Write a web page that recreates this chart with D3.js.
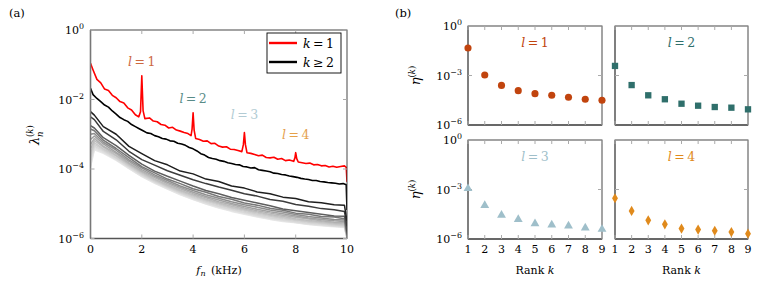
<!DOCTYPE html>
<html>
<head>
<meta charset="utf-8">
<script src="https://cdn.jsdelivr.net/npm/d3@7"></script>
<style>
  body { margin: 0; background: #fff; }
  svg text { font-family: "DejaVu Serif", serif; }
</style>
</head>
<body>
<svg id="chart" width="757" height="284"></svg>
<script>
// ---------- data (values are log10 of lambda / eta) ----------
// (a) k = 1 spectrum, [f kHz, log10 lambda]
const curveK1 = [
  [0,-0.96],[0.1,-1.15],[0.25,-1.42],[0.4,-1.52],[0.55,-1.70],[0.7,-1.74],[0.85,-1.88],[1.0,-1.95],
  [1.15,-2.06],[1.3,-2.10],[1.45,-2.24],[1.6,-2.30],[1.75,-2.44],[1.88,-2.50],[1.95,-2.35],[2.0,-1.32],
  [2.05,-2.32],[2.12,-2.55],[2.3,-2.53],[2.45,-2.62],[2.6,-2.64],[2.75,-2.72],[2.9,-2.74],[3.05,-2.82],
  [3.2,-2.80],[3.35,-2.88],[3.5,-2.91],[3.65,-2.95],[3.8,-2.98],[3.92,-3.04],[3.96,-2.85],[4.0,-2.38],
  [4.04,-2.88],[4.1,-3.12],[4.25,-3.15],[4.4,-3.20],[4.55,-3.19],[4.7,-3.27],[4.85,-3.26],[5.0,-3.34],
  [5.15,-3.37],[5.3,-3.36],[5.45,-3.43],[5.6,-3.44],[5.75,-3.47],[5.9,-3.50],[5.96,-3.30],[6.0,-2.95],
  [6.04,-3.30],[6.1,-3.53],[6.25,-3.55],[6.4,-3.58],[6.55,-3.62],[6.7,-3.60],[6.85,-3.67],[7.0,-3.68],
  [7.15,-3.66],[7.3,-3.72],[7.45,-3.70],[7.6,-3.76],[7.75,-3.74],[7.92,-3.78],[7.97,-3.68],[8.0,-3.53],
  [8.04,-3.70],[8.1,-3.80],[8.25,-3.82],[8.4,-3.84],[8.55,-3.83],[8.7,-3.88],[8.85,-3.87],[9.0,-3.91],
  [9.15,-3.90],[9.3,-3.94],[9.45,-3.92],[9.6,-3.95],[9.75,-3.93],[9.9,-3.91],[9.97,-3.95],[10,-4.37]
];
// (a) k = 2 spectrum
const curveK2 = [
  [0,-1.68],[0.1,-1.86],[0.25,-1.97],[0.4,-2.06],[0.55,-2.16],[0.7,-2.22],[0.85,-2.33],[1.0,-2.42],
  [1.15,-2.52],[1.3,-2.58],[1.45,-2.63],[1.6,-2.72],[1.75,-2.78],[1.9,-2.84],[2.05,-2.90],[2.2,-2.96],
  [2.35,-2.98],[2.5,-3.04],[2.65,-3.07],[2.8,-3.12],[2.95,-3.14],[3.1,-3.19],[3.25,-3.20],[3.4,-3.26],
  [3.55,-3.28],[3.7,-3.32],[3.85,-3.38],[4.0,-3.42],[4.15,-3.48],[4.3,-3.56],[4.45,-3.60],[4.6,-3.67],
  [4.75,-3.70],[4.9,-3.72],[5.05,-3.76],[5.2,-3.78],[5.35,-3.82],[5.5,-3.84],[5.65,-3.87],[5.8,-3.88],
  [5.95,-3.93],[6.1,-3.94],[6.25,-3.97],[6.4,-3.96],[6.55,-4.02],[6.7,-4.04],[6.85,-4.06],[7.0,-4.08],
  [7.15,-4.12],[7.3,-4.13],[7.45,-4.16],[7.6,-4.17],[7.75,-4.20],[7.9,-4.22],[8.05,-4.24],[8.2,-4.27],
  [8.35,-4.29],[8.5,-4.30],[8.65,-4.33],[8.8,-4.33],[8.95,-4.36],[9.1,-4.37],[9.25,-4.39],[9.4,-4.40],
  [9.55,-4.41],[9.7,-4.43],[9.85,-4.42],[9.97,-4.45],[10,-5.18]
];
// (a) k >= 3 spectra on a coarser frequency grid
const freqCoarse = [0, 0.15, 0.5, 1, 1.5, 2, 2.5, 3, 3.5, 4, 4.5, 5, 5.5, 6, 6.5, 7, 7.5, 8, 8.5, 9, 9.5, 9.9, 10];
const curvesHigher = [
  [-2.35,-2.45,-2.78,-3.00,-3.35,-3.56,-3.76,-3.88,-4.06,-4.14,-4.29,-4.36,-4.49,-4.55,-4.66,-4.71,-4.81,-4.85,-4.94,-4.97,-5.03,-5.04,-5.50],
  [-2.50,-2.58,-2.92,-3.16,-3.49,-3.73,-3.89,-4.05,-4.18,-4.31,-4.42,-4.52,-4.61,-4.71,-4.78,-4.88,-4.93,-5.02,-5.07,-5.14,-5.17,-5.22,-5.65],
  [-2.75,-2.82,-3.10,-3.33,-3.61,-3.86,-4.06,-4.21,-4.35,-4.49,-4.62,-4.71,-4.82,-4.90,-4.98,-5.06,-5.15,-5.20,-5.25,-5.30,-5.35,-5.36,-5.80],
  [-2.85,-2.90,-3.17,-3.41,-3.67,-3.93,-4.11,-4.29,-4.42,-4.57,-4.67,-4.79,-4.87,-4.98,-5.04,-5.13,-5.19,-5.27,-5.30,-5.37,-5.38,-5.43,-5.85],
  [-3.00,-2.98,-3.23,-3.46,-3.74,-3.97,-4.17,-4.33,-4.49,-4.62,-4.74,-4.84,-4.94,-5.03,-5.10,-5.18,-5.24,-5.31,-5.37,-5.41,-5.45,-5.47,-5.88],
  [-3.15,-3.05,-3.28,-3.52,-3.78,-4.02,-4.21,-4.38,-4.53,-4.67,-4.79,-4.89,-4.99,-5.08,-5.16,-5.23,-5.29,-5.35,-5.41,-5.45,-5.49,-5.51,-5.90],
  [-3.30,-3.12,-3.34,-3.56,-3.83,-4.06,-4.25,-4.42,-4.57,-4.71,-4.83,-4.94,-5.03,-5.12,-5.20,-5.27,-5.33,-5.39,-5.44,-5.49,-5.53,-5.55,-5.92],
  [-3.42,-3.18,-3.37,-3.61,-3.86,-4.09,-4.29,-4.46,-4.61,-4.75,-4.87,-4.98,-5.07,-5.16,-5.24,-5.31,-5.37,-5.43,-5.48,-5.52,-5.56,-5.58,-5.94],
  [-3.55,-3.24,-3.42,-3.63,-3.89,-4.12,-4.32,-4.49,-4.64,-4.78,-4.90,-5.01,-5.11,-5.19,-5.27,-5.34,-5.40,-5.46,-5.51,-5.55,-5.59,-5.61,-5.95],
  [-3.65,-3.29,-3.45,-3.67,-3.92,-4.15,-4.34,-4.51,-4.67,-4.81,-4.93,-5.04,-5.13,-5.22,-5.30,-5.37,-5.43,-5.48,-5.53,-5.57,-5.61,-5.63,-5.96],
  [-3.75,-3.34,-3.48,-3.69,-3.94,-4.17,-4.37,-4.53,-4.69,-4.83,-4.96,-5.07,-5.16,-5.25,-5.33,-5.40,-5.46,-5.51,-5.56,-5.59,-5.63,-5.65,-5.97],
  [-3.82,-3.38,-3.51,-3.72,-3.96,-4.19,-4.38,-4.55,-4.71,-4.85,-4.98,-5.09,-5.18,-5.27,-5.35,-5.42,-5.48,-5.53,-5.58,-5.61,-5.64,-5.66,-5.98],
  [-3.90,-3.42,-3.53,-3.73,-3.98,-4.21,-4.40,-4.57,-4.73,-4.87,-5.00,-5.11,-5.20,-5.29,-5.37,-5.44,-5.50,-5.54,-5.59,-5.62,-5.65,-5.67,-5.99],
  [-3.95,-3.45,-3.55,-3.75,-3.99,-4.22,-4.41,-4.58,-4.74,-4.88,-5.01,-5.12,-5.22,-5.30,-5.38,-5.45,-5.51,-5.55,-5.60,-5.63,-5.66,-5.68,-6.00]
];
const greyShades = ['#1e1e1e','#3c3c3c','#5e5e5e','#787878','#8e8e8e','#a0a0a0','#b0b0b0',
                    '#bdbdbd','#c8c8c8','#d1d1d1','#d8d8d8','#dfdfdf','#e4e4e4','#e9e9e9'];
// (a) peak labels: mode index, frequency, log10 position
const peakLabels = [
  { l: 1, f: 2.0, v: -1.05 },
  { l: 2, f: 4.0, v: -2.1 },
  { l: 3, f: 6.0, v: -2.55 },
  { l: 4, f: 8.0, v: -3.15 }
];

// (b) eta vs rank, log10 values
const ranks = [1, 2, 3, 4, 5, 6, 7, 8, 9];
const etaL1 = [-1.33, -2.97, -3.60, -3.92, -4.10, -4.20, -4.32, -4.44, -4.50];
const etaL2 = [-2.42, -3.58, -4.20, -4.44, -4.71, -4.83, -4.91, -4.95, -5.05];
const etaL3 = [-2.94, -3.96, -4.55, -4.81, -5.07, -5.15, -5.21, -5.33, -5.41];
const etaL4 = [-3.53, -4.30, -4.87, -5.11, -5.37, -5.43, -5.50, -5.58, -5.68];

const modeColors = ['#c1440e', '#2f6f6b', '#9fbfca', '#e08a1c'];
const modeSymbols = [d3.symbolCircle, d3.symbolSquare, d3.symbolTriangle, d3.symbolDiamond];

const yTicksA = [0, -2, -4, -6];
const yTicksB = [0, -3, -6];

// ---------- helpers ----------
const svg = d3.select('#chart');
const FS = 11;

function powLabel(sel, e) {
  sel.text(null);
  sel.append('tspan').text('10');
  sel.append('tspan').attr('dy', -5).attr('font-size', FS * 0.72)
    .text(e === 0 ? '0' : '\u2212' + Math.abs(e));
}

function mathLabel(g, x, y, name, rhs, color, size) {
  const t = g.append('text').attr('x', x).attr('y', y)
    .attr('text-anchor', 'middle').attr('fill', color).attr('font-size', size || 12);
  t.append('tspan').attr('font-style', 'italic').text(name);
  t.append('tspan').text(rhs);
  return t;
}

function frame(g, x0, x1, y0, y1) {
  g.append('rect').attr('x', x0).attr('y', y0).attr('width', x1 - x0).attr('height', y1 - y0)
    .attr('fill', 'none').attr('stroke', '#333').attr('stroke-width', 0.9);
  g.append('line').attr('x1', x0).attr('x2', x0).attr('y1', y0).attr('y2', y1)
    .attr('stroke', '#777').attr('stroke-width', 1.6);
  g.append('line').attr('x1', x0).attr('x2', x1).attr('y1', y1).attr('y2', y1)
    .attr('stroke', '#555').attr('stroke-width', 1.4);
}

function inwardTicks(g, xs, ys, x, y, len) {
  const [x0, x1] = x.range(), [y1, y0] = y.range();
  xs.forEach(v => {
    const px = x(v);
    g.append('line').attr('x1', px).attr('x2', px).attr('y1', y1).attr('y2', y1 - len).attr('stroke', '#aaa');
    g.append('line').attr('x1', px).attr('x2', px).attr('y1', y0).attr('y2', y0 + len).attr('stroke', '#aaa');
  });
  ys.forEach(v => {
    const py = y(v);
    g.append('line').attr('x1', x0).attr('x2', x0 + len).attr('y1', py).attr('y2', py).attr('stroke', '#aaa');
    g.append('line').attr('x1', x1).attr('x2', x1 - len).attr('y1', py).attr('y2', py).attr('stroke', '#aaa');
  });
}

// ---------- (a) spectra ----------
const xA = d3.scaleLinear([0, 10], [90.5, 347]);
const yA = d3.scaleLog([1e-6, 1], [238.5, 30]);
const gA = svg.append('g');

svg.append('text').attr('x', 9).attr('y', 17).attr('font-size', 11.5).text('(a)');

svg.append('clipPath').attr('id', 'clipA').append('rect')
  .attr('x', 90.5).attr('y', 30).attr('width', 256.5).attr('height', 208.5);

const lineA = d3.line().x(d => xA(d[0])).y(d => yA(Math.pow(10, d[1])));
const plotA = gA.append('g').attr('clip-path', 'url(#clipA)');

// lightest first so the darker curves sit on top
curvesHigher.map((c, i) => ({ c, i })).reverse().forEach(({ c, i }) => {
  plotA.append('path')
    .datum(freqCoarse.map((f, j) => [f, c[j]]))
    .attr('d', lineA).attr('fill', 'none')
    .attr('stroke', greyShades[i]).attr('stroke-width', 1.5).attr('stroke-linejoin', 'round');
});
plotA.append('path').datum(curveK2).attr('d', lineA).attr('fill', 'none')
  .attr('stroke', '#000').attr('stroke-width', 1.6).attr('stroke-linejoin', 'round');
plotA.append('path').datum(curveK1).attr('d', lineA).attr('fill', 'none')
  .attr('stroke', '#ff0000').attr('stroke-width', 1.6).attr('stroke-linejoin', 'round');

frame(gA, 90.5, 347, 30, 238.5);
inwardTicks(gA, [2, 4, 6, 8], yTicksA.map(e => Math.pow(10, e)), xA, yA, 4);

// tick labels
gA.selectAll('text.xt').data([0, 2, 4, 6, 8, 10]).join('text')
  .attr('class', 'xt').attr('x', d => xA(d)).attr('y', 253)
  .attr('text-anchor', 'middle').attr('font-size', FS).text(d => d);
gA.selectAll('text.yt').data(yTicksA).join('text')
  .attr('class', 'yt').attr('x', 84).attr('y', d => yA(Math.pow(10, d)) + 4)
  .attr('text-anchor', 'end').attr('font-size', FS)
  .each(function (d) { powLabel(d3.select(this), d); });

// axis titles
const xt = gA.append('text').attr('x', 219).attr('y', 274).attr('text-anchor', 'middle').attr('font-size', FS);
xt.append('tspan').attr('font-style', 'italic').text('f');
xt.append('tspan').attr('font-style', 'italic').attr('font-size', 8).attr('dy', 2).text('n');
xt.append('tspan').attr('dy', -2).text('\u2002(kHz)');

const ylA = gA.append('g').attr('transform', 'translate(39,140) rotate(-90)');
ylA.append('text').attr('x', -5).attr('y', 0).attr('font-size', 13).attr('font-style', 'italic').text('\u03bb');
ylA.append('text').attr('x', 3).attr('y', 3.5).attr('font-size', 8.5).attr('font-style', 'italic').text('n');
const ksup = ylA.append('text').attr('x', 3).attr('y', -6).attr('font-size', 8.5);
ksup.append('tspan').text('(');
ksup.append('tspan').attr('font-style', 'italic').text('k');
ksup.append('tspan').text(')');

// peak labels
peakLabels.forEach(p => {
  mathLabel(gA, xA(p.f), yA(Math.pow(10, p.v)), 'l', '\u2009=\u2009' + p.l, modeColors[p.l - 1], 12.5)
    .attr('opacity', 0.8);
});

// legend
const lg = gA.append('g');
lg.append('rect').attr('x', 267).attr('y', 33).attr('width', 74).attr('height', 40)
  .attr('fill', '#fff').attr('stroke', '#000').attr('stroke-width', 0.9);
[{ c: '#ff0000', rhs: '\u2009=\u20091', y: 43 }, { c: '#000', rhs: '\u2009\u2265\u20092', y: 62 }].forEach(e => {
  lg.append('line').attr('x1', 269).attr('x2', 297).attr('y1', e.y).attr('y2', e.y)
    .attr('stroke', e.c).attr('stroke-width', 2.4);
  const t = lg.append('text').attr('x', 303).attr('y', e.y + 4.5).attr('font-size', 12.5);
  t.append('tspan').attr('font-style', 'italic').text('k');
  t.append('tspan').text(e.rhs);
});

// ---------- (b) eta vs rank ----------
svg.append('text').attr('x', 395).attr('y', 17).attr('font-size', 11.5).text('(b)');

const panels = [
  { vals: etaL1, x: [468, 602], y: [125, 26], col: 0, row: 0 },
  { vals: etaL2, x: [615, 748], y: [125, 26], col: 1, row: 0 },
  { vals: etaL3, x: [468, 602], y: [239, 140], col: 0, row: 1 },
  { vals: etaL4, x: [615, 748], y: [239, 140], col: 1, row: 1 }
];

panels.forEach((p, i) => {
  const g = svg.append('g');
  const x = d3.scaleLinear([1, 9], p.x);
  const y = d3.scaleLog([1e-6, 1], p.y);
  frame(g, p.x[0], p.x[1], p.y[1], p.y[0]);
  inwardTicks(g, ranks, [1e-3], x, y, 4);

  if (p.col === 0) {
    g.selectAll('text.yt').data(yTicksB).join('text')
      .attr('class', 'yt').attr('x', 462).attr('y', d => y(Math.pow(10, d)) + 4)
      .attr('text-anchor', 'end').attr('font-size', FS)
      .each(function (d) { powLabel(d3.select(this), d); });
    const yl = g.append('g').attr('transform', `translate(420,${(p.y[0] + p.y[1]) / 2}) rotate(-90)`);
    const t = yl.append('text').attr('text-anchor', 'middle').attr('font-size', 13);
    t.append('tspan').attr('font-style', 'italic').text('\u03b7');
    t.append('tspan').attr('dy', -5).attr('font-size', 8.5).text('(');
    t.append('tspan').attr('font-size', 8.5).attr('font-style', 'italic').text('k');
    t.append('tspan').attr('font-size', 8.5).text(')');
  }
  if (p.row === 1) {
    g.selectAll('text.xt').data(ranks).join('text')
      .attr('class', 'xt').attr('x', d => x(d)).attr('y', 253)
      .attr('text-anchor', 'middle').attr('font-size', FS).text(d => d);
    const t = g.append('text').attr('x', (p.x[0] + p.x[1]) / 2).attr('y', 274)
      .attr('text-anchor', 'middle').attr('font-size', FS);
    t.append('tspan').text('Rank ');
    t.append('tspan').attr('font-style', 'italic').text('k');
  }

  mathLabel(g, (p.x[0] + p.x[1]) / 2, p.y[1] + 21, 'l', '\u2009=\u2009' + (i + 1), modeColors[i], 12.5);

  g.selectAll('path.mk').data(p.vals.map((v, j) => [ranks[j], v])).join('path')
    .attr('class', 'mk')
    .attr('transform', d => `translate(${x(d[0])},${y(Math.pow(10, d[1]))})`)
    .attr('d', d3.symbol(modeSymbols[i], i === 2 ? 34 : i === 3 ? 30 : 40))
    .attr('fill', modeColors[i]);
});
</script>
</body>
</html>
